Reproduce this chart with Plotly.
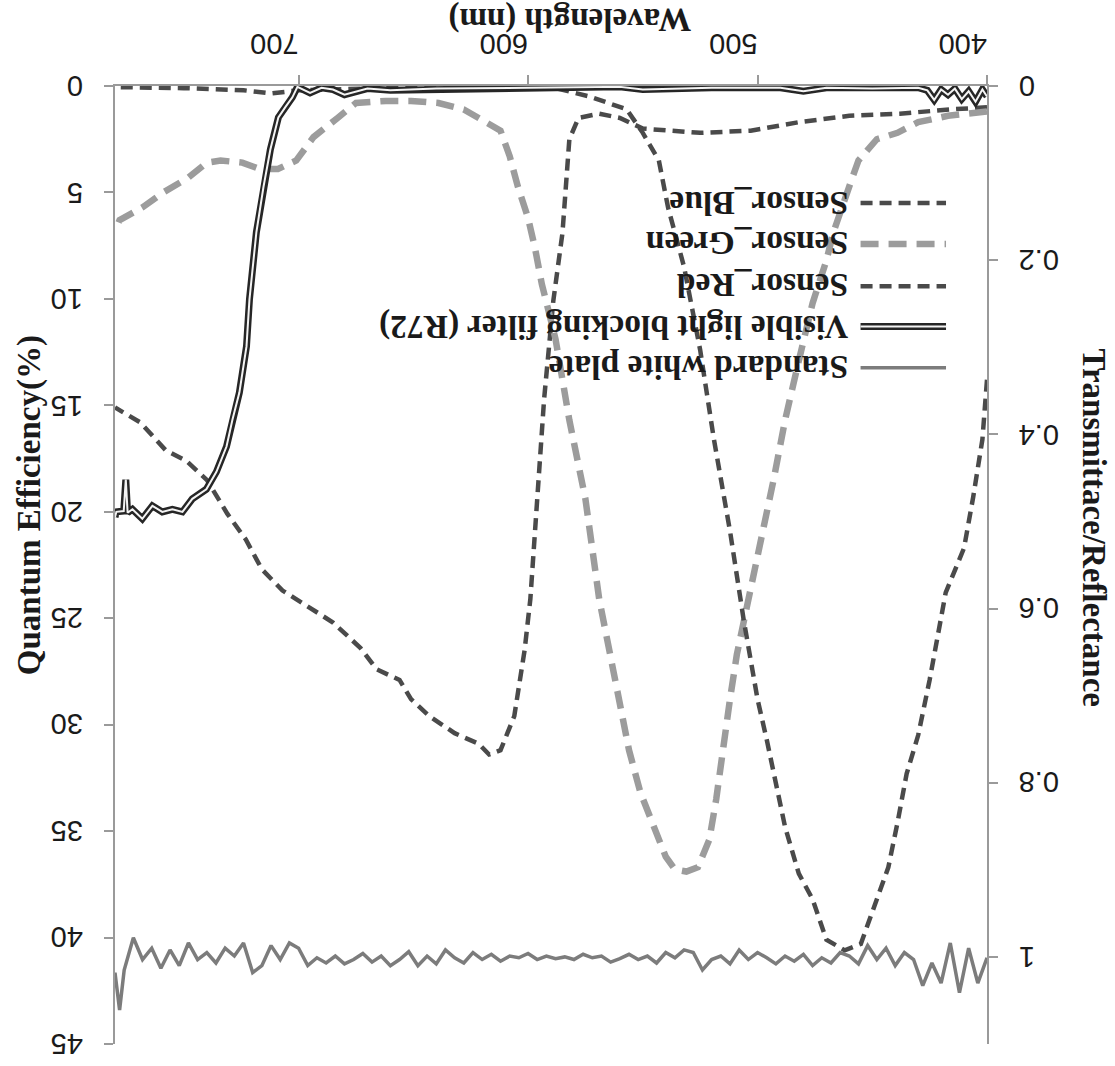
import plotly.graph_objects as go

# ---- spectral data -------------------------------------------------------
# Sensor quantum efficiency (%) versus wavelength (nm)
wl_blue = [400, 402, 406, 410, 418, 421, 425, 430, 435, 439, 443, 448, 453, 455,
           462, 470, 476, 482, 488, 492, 496, 500, 506, 512, 519, 525, 532, 539,
           543, 550, 557, 573, 588, 620, 660, 700, 712, 724, 750, 780]
qe_blue = [13.8, 16.6, 19.3, 21.7, 23.8, 25.6, 27.9, 30.5, 32.3, 34.6, 36.7, 38.2,
           39.8, 40.3, 40.6, 40.1, 38.2, 37.0, 34.8, 32.7, 30.7, 28.8, 25.1, 20.9,
           16.6, 12.4, 8.5, 5.7, 3.5, 2.2, 1.1, 0.5, 0.1, 0.1, 0.1, 0.2, 0.35, 0.2,
           0.1, 0.05]

wl_green = [400, 417, 430, 439, 448, 456, 459, 464, 467, 470, 476, 482, 488, 493,
            499, 504, 509, 512, 515, 518, 521, 526, 531, 536, 540, 545, 551, 556,
            560.5, 569, 575, 582, 588, 594, 597, 600, 604.5, 608, 612, 615, 628,
            639, 651, 662, 675, 683, 693.5, 701, 709, 717, 724.5, 734, 740, 748,
            759, 768, 778, 780]
qe_green = [1.2, 1.4, 1.7, 2.2, 2.5, 3.5, 4.4, 6.0, 6.9, 8.2, 10.2, 12.9, 15.7,
            18.5, 21.6, 24.1, 26.7, 28.8, 31.2, 33.5, 35.4, 36.7, 36.9, 36.8, 36.2,
            34.8, 33.2, 31.2, 28.8, 24.1, 19.4, 15.7, 11.9, 9.3, 7.6, 6.2, 4.7, 3.3,
            2.1, 1.9, 1.1, 0.8, 0.7, 0.7, 0.8, 1.5, 2.4, 3.5, 3.9, 3.9, 3.6, 3.5,
            3.6, 4.3, 5.0, 5.7, 6.3, 6.8]

wl_red = [400, 416, 438, 460, 482, 503, 525, 550, 560, 569, 578, 582, 585, 589,
          593, 596, 599, 601.5, 604.5, 606, 609, 612, 617, 621.5, 632, 643, 651,
          656, 666, 673, 685, 695, 707, 716, 723, 731, 740, 749, 758, 769, 780]
qe_red = [1.0, 1.1, 1.3, 1.4, 1.7, 2.1, 2.2, 2.0, 1.5, 1.3, 1.5, 2.5, 6.9, 10.1,
          14.7, 19.4, 24.1, 26.5, 28.8, 29.6, 30.4, 31.2, 31.4, 30.9, 30.4, 29.6,
          28.8, 27.9, 27.4, 26.4, 25.2, 24.5, 23.7, 22.7, 21.3, 20.1, 18.5, 17.6,
          17.1, 15.8, 15.1]

# Visible light blocking filter (R72) transmittance
wl_filter = [400, 402, 405, 408, 411, 414, 417, 420, 423, 426, 430, 450, 470, 480,
             490, 520, 550, 560, 600, 640, 660, 670, 680, 685, 690, 695, 700.5,
             702.7, 705.7, 708.8, 712.3, 715.3, 718.4, 721.4, 722.7, 725.8, 728.8,
             731.4, 735.8, 740.2, 746.3, 750.6, 755.0, 759.4, 763.7, 768.1, 772.4,
             774.5, 775.3, 776.2, 779.4, 780]
tr_filter = [0.012, 0.004, 0.018, 0.006, 0.015, 0.003, 0.010, 0.004, 0.016, 0.005,
             0.002, 0.003, 0.002, 0.006, 0.002, 0.002, 0.004, 0.001, 0.002, 0.003,
             0.005, 0.003, 0.010, 0.004, 0.002, 0.008, 0.001, 0.013, 0.024, 0.036,
             0.073, 0.116, 0.168, 0.245, 0.299, 0.352, 0.383, 0.414, 0.443, 0.463,
             0.474, 0.489, 0.486, 0.489, 0.482, 0.497, 0.486, 0.490, 0.452, 0.488,
             0.489, 0.495]

# Standard white plate reflectance
wl_plate = [400, 404, 408, 412, 416, 420, 424, 428, 432, 436, 440, 444, 448, 452,
            456, 460, 464, 468, 472, 476, 480, 484, 488, 492, 496, 500, 504, 508,
            512, 516, 520, 524, 528, 532, 536, 540, 544, 548, 552, 556, 560, 564,
            568, 572, 576, 580, 584, 588, 592, 596, 600, 604, 608, 612, 616, 620,
            624, 628, 632, 636, 640, 644, 648, 652, 656, 660, 664, 668, 672, 676,
            680, 684, 688, 692, 696, 700, 704, 708, 712, 716, 720, 724, 728, 732,
            736, 740, 744, 748, 752, 756, 760, 764, 768, 772, 776, 778, 780]
rf_plate = [1.001, 1.030, 0.990, 1.041, 0.984, 1.030, 1.007, 1.033, 1.003, 0.995,
            1.010, 0.990, 1.003, 0.987, 1.008, 0.999, 0.995, 1.007, 1.001, 1.010,
            0.997, 1.005, 0.999, 1.008, 1.001, 0.995, 1.003, 0.992, 1.008, 0.999,
            1.003, 1.015, 0.995, 0.992, 1.001, 0.995, 1.007, 0.999, 1.003, 0.997,
            1.002, 1.006, 0.999, 1.001, 0.997, 1.003, 1.000, 1.002, 0.999, 1.003,
            0.996, 1.001, 0.999, 1.005, 0.997, 1.003, 0.995, 1.007, 1.001, 0.992,
            1.008, 0.999, 1.010, 0.994, 1.003, 1.010, 0.999, 1.006, 0.996, 1.003,
            1.008, 0.999, 1.007, 1.001, 1.010, 0.990, 0.984, 1.003, 0.987, 1.010,
            1.018, 0.984, 0.999, 0.990, 1.007, 0.995, 1.003, 0.984, 1.010, 0.992,
            1.013, 0.990, 1.003, 0.978, 1.015, 1.061, 1.018]

# axis ticks
x_ticks = [400, 500, 600, 700]
qe_ticks = [0, 5, 10, 15, 20, 25, 30, 35, 40, 45]
tr_ticks = [0, 0.2, 0.4, 0.6, 0.8, 1.0]
tr_tick_text = ["0", "0.2", "0.4", "0.6", "0.8", "1"]

legend_names = ["Sensor_Blue", "Sensor_Green", "Sensor_Red",
                "Visible light blocking filter (R72)", "Standard white plate"]

# ---- styling ---------------------------------------------------------------
DARK = "#4a4a4a"
GREEN = "#9c9c9c"
PLATE = "#7c7c7c"
AXIS = "#9a9a9a"
TEXT = "#1a1a1a"
SERIF = "Liberation Serif"
SANS = "Liberation Sans"

dark_dash = "12px,7px"
green_dash = "18px,10px"

fig = go.Figure()

fig.add_trace(go.Scatter(x=wl_plate, y=rf_plate, yaxis="y2", mode="lines",
                         line=dict(color=PLATE, width=3.5), name=legend_names[4]))
fig.add_trace(go.Scatter(x=wl_filter, y=tr_filter, yaxis="y2", mode="lines",
                         line=dict(color="#262626", width=7), name=legend_names[3]))
fig.add_trace(go.Scatter(x=wl_filter, y=tr_filter, yaxis="y2", mode="lines",
                         line=dict(color="#f4f4f4", width=2), showlegend=False))
fig.add_trace(go.Scatter(x=wl_red, y=qe_red, mode="lines",
                         line=dict(color=DARK, width=4.5, dash=dark_dash),
                         name=legend_names[2]))
fig.add_trace(go.Scatter(x=wl_green, y=qe_green, mode="lines",
                         line=dict(color=GREEN, width=6.5, dash=green_dash),
                         name=legend_names[1]))
fig.add_trace(go.Scatter(x=wl_blue, y=qe_blue, mode="lines",
                         line=dict(color=DARK, width=4.5, dash=dark_dash),
                         name=legend_names[0]))

# ---- hand-built legend (upside-down text) ------------------------------------
row_y = [0.878, 0.835, 0.791, 0.749, 0.706]
sample_x0, sample_x1 = 0.855, 0.953
text_x = 0.843
sample_styles = [
    [dict(color=DARK, width=4.5, dash=dark_dash)],
    [dict(color=GREEN, width=6.5, dash=green_dash)],
    [dict(color=DARK, width=4.5, dash=dark_dash)],
    [dict(color="#262626", width=7), dict(color="#f4f4f4", width=2)],
    [dict(color=PLATE, width=3.5)],
]
shapes = []
annotations = []
for name, y, styles in zip(legend_names, row_y, sample_styles):
    for st in styles:
        shapes.append(dict(type="line", xref="paper", yref="paper",
                           x0=sample_x0, x1=sample_x1, y0=y, y1=y, line=st))
    annotations.append(dict(text="<b>%s</b>" % name, xref="paper", yref="paper",
                            x=text_x, y=y, xanchor="right", yanchor="middle",
                            textangle=180, showarrow=False,
                            font=dict(family=SERIF, size=33.5, color=TEXT)))

# axis titles
title_font = dict(family=SERIF, size=33, color=TEXT)
annotations.append(dict(text="<b>Wavelength (nm)</b>", xref="paper", yref="paper",
                        x=0.522, y=1.07, xanchor="center", yanchor="middle",
                        textangle=180, showarrow=False, font=title_font))
annotations.append(dict(text="<b>Quantum Efficiency(%)</b>", xref="paper",
                        yref="paper", x=-0.098, y=0.562, xanchor="center",
                        yanchor="middle", textangle=-90, showarrow=False,
                        font=title_font))
annotations.append(dict(text="<b>Transmittace/Reflectance</b>", xref="paper",
                        yref="paper", x=1.123, y=0.539, xanchor="center",
                        yanchor="middle", textangle=90, showarrow=False,
                        font=title_font))

tick_font = dict(family=SANS, size=29, color=TEXT)

# upside-down tick labels for both value axes
for v in qe_ticks:
    annotations.append(dict(text=str(v), xref="paper", yref="y", x=0, y=v,
                            xanchor="right", yanchor="middle", xshift=-30,
                            textangle=180, showarrow=False, font=tick_font))
for v, t in zip(tr_ticks, tr_tick_text):
    annotations.append(dict(text=t, xref="paper", yref="y2", x=1, y=v,
                            xanchor="left", yanchor="middle", xshift=30,
                            textangle=180, showarrow=False, font=tick_font))

fig.update_layout(
    width=1115, height=1066,
    margin=dict(l=115, r=128, t=86, b=22),
    paper_bgcolor="white", plot_bgcolor="white",
    showlegend=False,
    shapes=shapes,
    annotations=annotations,
    xaxis=dict(range=[780, 400], side="top", tickvals=x_ticks, tickangle=180,
               ticks="outside", ticklen=9, tickcolor=AXIS, tickwidth=1.5,
               showline=True, linecolor=AXIS, linewidth=2, showgrid=False,
               zeroline=False, tickfont=tick_font),
    yaxis=dict(range=[45, 0], tickvals=qe_ticks, showticklabels=False,
               ticks="outside", ticklen=9, tickcolor=AXIS, tickwidth=1.5,
               showline=True, linecolor=AXIS, linewidth=2, showgrid=False,
               zeroline=False),
    yaxis2=dict(range=[1.1, 0], overlaying="y", side="right", tickvals=tr_ticks,
                showticklabels=False, ticks="outside", ticklen=9,
                tickcolor=AXIS, tickwidth=1.5, showline=True, linecolor=AXIS,
                linewidth=2, showgrid=False, zeroline=False),
)

fig.write_html("out.html")
